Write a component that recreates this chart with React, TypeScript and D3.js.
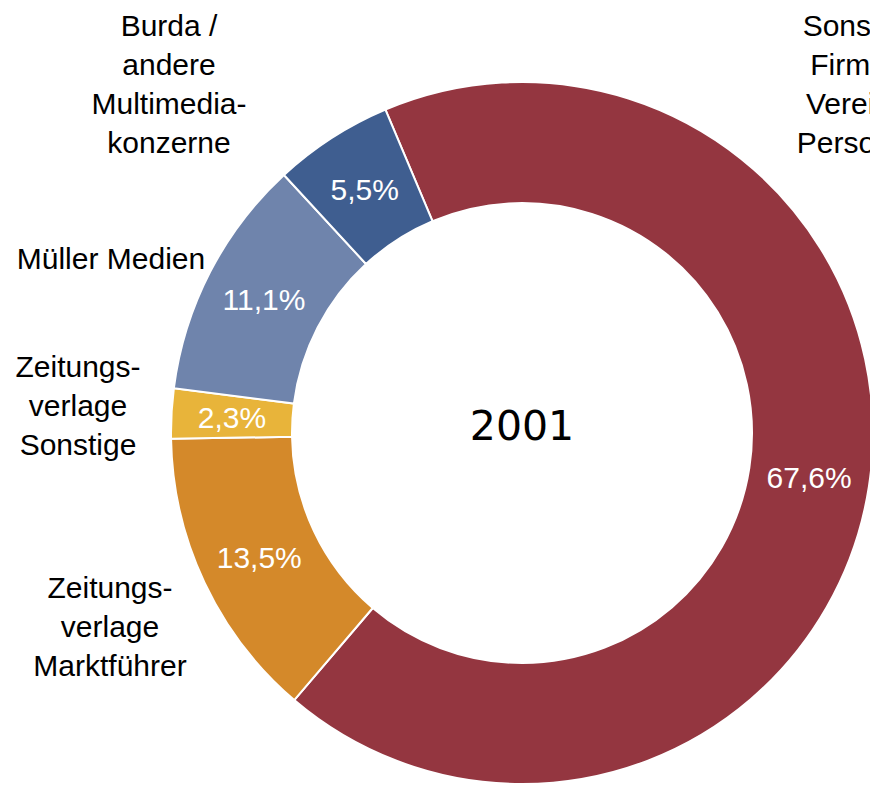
import React, { useEffect, useRef } from 'react';
import * as d3 from 'd3';

const categories = [
  'Sonstige Firmen, Vereine, Personen',
  'Zeitungsverlage Marktführer',
  'Zeitungsverlage Sonstige',
  'Müller Medien',
  'Burda / andere Multimediakonzerne',
];
const shares = [67.6, 13.5, 2.3, 11.1, 5.5];
const shareLabels = ['67,6%', '13,5%', '2,3%', '11,1%', '5,5%'];
const categoryLines = [
  ['Sonstige', 'Firmen,', 'Vereine,', 'Personen'],
  ['Zeitungs-', 'verlage', 'Marktführer'],
  ['Zeitungs-', 'verlage', 'Sonstige'],
  ['Müller Medien'],
  ['Burda /', 'andere', 'Multimedia-', 'konzerne'],
];
const colors = ['#943640', '#D4892A', '#E8B43A', '#6F84AC', '#3F5E90'];
const yearLabel = '2001';

// where the outside labels sit (centre x, first baseline)
const labelAnchors = [
  { x: 861, y: 36 },
  { x: 110, y: 598 },
  { x: 78, y: 377 },
  { x: 111, y: 269 },
  { x: 169, y: 36 },
];

export default function App() {
  const svgRef = useRef<SVGSVGElement>(null);

  useEffect(() => {
    if (!svgRef.current) return;
    const svg = d3.select(svgRef.current);
    svg.selectAll('*').remove();

    const cx = 522;
    const cy = 433;
    const outerR = 351;
    const innerR = 230;
    const start = (-22.9 * Math.PI) / 180;

    const pie = d3
      .pie<number>()
      .sort(null)
      .value(d => d)
      .startAngle(start)
      .endAngle(start + 2 * Math.PI);

    const arc = d3.arc<d3.PieArcDatum<number>>().innerRadius(innerR).outerRadius(outerR);

    const arcs = pie(shares);
    const g = svg.append('g').attr('transform', `translate(${cx},${cy})`);

    g.selectAll('path')
      .data(arcs)
      .enter()
      .append('path')
      .attr('d', arc)
      .attr('fill', (d, i) => colors[i])
      .attr('stroke', '#fff')
      .attr('stroke-width', 2)
      .append('title')
      .text((d, i) => categories[i]);

    g.selectAll('text.pct')
      .data(arcs)
      .enter()
      .append('text')
      .attr('class', 'pct')
      .attr('x', d => arc.centroid(d)[0])
      .attr('y', d => arc.centroid(d)[1])
      .attr('dy', '0.36em')
      .attr('text-anchor', 'middle')
      .attr('fill', '#fff')
      .style('font-family', '"Liberation Sans", Arial, sans-serif')
      .style('font-size', '30px')
      .text((d, i) => shareLabels[i]);

    g.append('text')
      .attr('x', 0)
      .attr('y', 7)
      .attr('text-anchor', 'middle')
      .attr('fill', '#000')
      .style('font-family', '"DejaVu Sans", sans-serif')
      .style('font-size', '41px')
      .text(yearLabel);

    const labels = svg
      .selectAll('text.cat')
      .data(categoryLines)
      .enter()
      .append('text')
      .attr('class', 'cat')
      .attr('text-anchor', 'middle')
      .attr('fill', '#000')
      .style('font-family', '"Liberation Sans", Arial, sans-serif')
      .style('font-size', '30px');

    labels
      .selectAll('tspan')
      .data((lines, i) => lines.map((line, j) => ({ line, j, i })))
      .enter()
      .append('tspan')
      .attr('x', d => labelAnchors[d.i].x)
      .attr('y', d => labelAnchors[d.i].y + d.j * 39)
      .text(d => d.line);
  }, []);

  return (
    <svg
      ref={svgRef}
      width={870}
      height={786}
      style={{ position: 'absolute', left: 0, top: 0, background: '#fff' }}
    />
  );
}
